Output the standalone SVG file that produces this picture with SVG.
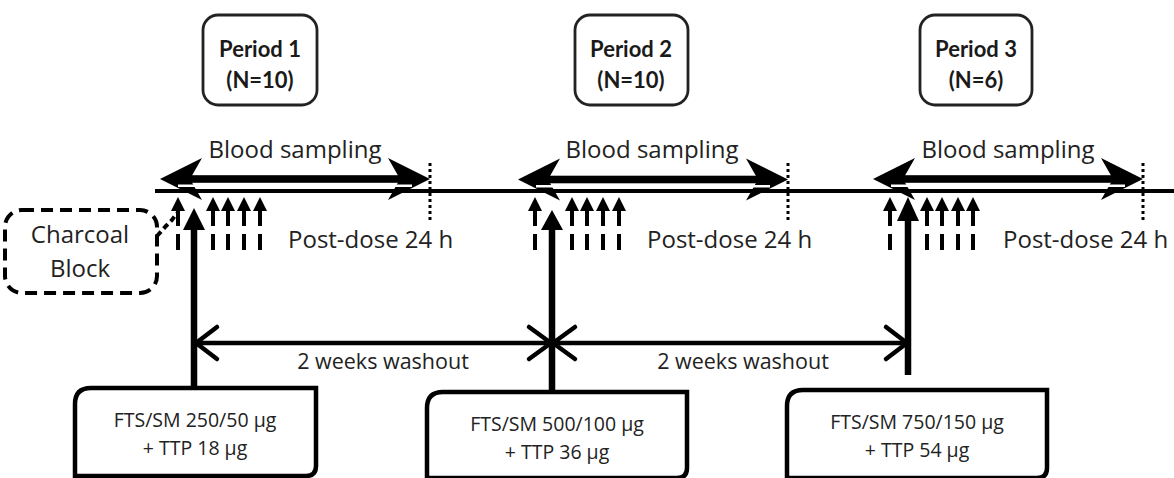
<svg xmlns="http://www.w3.org/2000/svg" xmlns:xlink="http://www.w3.org/1999/xlink" width="1174" height="478" viewBox="0 0 1174 478">
<style>
  .pbox { fill: #fff; stroke: #222; stroke-width: 2.8; }
  .ptxt { font-family: Lato, "Open Sans", sans-serif; font-weight: bold; font-size: 22px; fill: #1a1a1a; text-anchor: middle; }
  .lbl { font-family: "Open Sans", "Liberation Sans", sans-serif; font-size: 24px; fill: #222; }
  .wtxt { font-family: "Open Sans", "Liberation Sans", sans-serif; font-size: 21.5px; fill: #222; text-anchor: middle; }
  .btxt { font-family: "Open Sans", "Liberation Sans", sans-serif; font-size: 19.5px; fill: #222; text-anchor: middle; }
  .dbox { fill: #fff; stroke: #000; stroke-width: 4.5; }
  .line { stroke: #000; fill: none; }
  .dot { stroke: #000; stroke-width: 3; stroke-dasharray: 3 3; }
  .head { fill: #000; }
  .chev { stroke: #000; stroke-width: 4.5; fill: none; stroke-linecap: round; stroke-linejoin: round; }
</style>
<defs>
  <g id="sa">
    <polygon points="-7,211 0,197 7,211" fill="#000"/>
    <path d="M0,210 V226 M0,234 V250" stroke="#000" stroke-width="4" fill="none"/>
  </g>
  <g id="bs">
    <polygon class="head" points="0,0 42,-21 30,0 42,21"/>
    <polygon class="head" points="270,0 228,-21 240,0 228,21"/>
    <rect x="22" y="-3.8" width="226" height="7.6" fill="#000"/>
    <line x1="18" y1="6.8" x2="252" y2="6.8" stroke="#fff" stroke-width="2.6"/>
  </g>
</defs>

<!-- Period boxes -->
<g id="period1">
  <rect class="pbox" x="203" y="15" width="114" height="90" rx="15"/>
  <text class="ptxt" x="260" y="57">Period 1</text>
  <text class="ptxt" x="260" y="88">(N=10)</text>
</g>
<g id="period2">
  <rect class="pbox" x="575" y="15" width="113" height="90" rx="15"/>
  <text class="ptxt" x="631" y="57">Period 2</text>
  <text class="ptxt" x="631" y="88">(N=10)</text>
</g>
<g id="period3">
  <rect class="pbox" x="920" y="15" width="112" height="90" rx="15"/>
  <text class="ptxt" x="976" y="57">Period 3</text>
  <text class="ptxt" x="976" y="88">(N=6)</text>
</g>

<!-- Charcoal block -->
<g id="charcoal">
  <rect x="5" y="210" width="152" height="83" rx="17" fill="#fff" stroke="#000" stroke-width="4" stroke-dasharray="12 7"/>
  <text class="lbl" x="80" y="243" text-anchor="middle" font-size="23">Charcoal</text>
  <text class="lbl" x="80" y="277" text-anchor="middle" font-size="23">Block</text>
</g>

<!-- Dose boxes -->
<g id="dose1">
  <path class="dbox" d="M75,476 V404 Q75,388 91,388 H316 V466 Q316,476 306,476 Z"/>
  <text class="btxt" x="195" y="427">FTS/SM 250/50 µg</text>
  <text class="btxt" x="195" y="455">+ TTP 18 µg</text>
</g>
<g id="dose2">
  <path class="dbox" d="M427,478 V408 Q427,392 443,392 H687 V468 Q687,478 677,478 Z"/>
  <text class="btxt" x="557" y="431">FTS/SM 500/100 µg</text>
  <text class="btxt" x="557" y="459">+ TTP 36 µg</text>
</g>
<g id="dose3">
  <path class="dbox" d="M787,478 V406 Q787,390 803,390 H1047 V468 Q1047,478 1037,478 Z"/>
  <text class="btxt" x="917" y="429">FTS/SM 750/150 µg</text>
  <text class="btxt" x="917" y="457">+ TTP 54 µg</text>
</g>

<!-- Labels -->
<g id="labels">
  <text class="lbl" x="295" y="158" text-anchor="middle">Blood sampling</text>
  <text class="lbl" x="652" y="158" text-anchor="middle">Blood sampling</text>
  <text class="lbl" x="1008" y="158" text-anchor="middle">Blood sampling</text>
  <text class="lbl" x="288" y="248">Post-dose 24 h</text>
  <text class="lbl" x="647" y="248">Post-dose 24 h</text>
  <text class="lbl" x="1003" y="248">Post-dose 24 h</text>
  <text class="wtxt" x="383" y="369">2 weeks washout</text>
  <text class="wtxt" x="743" y="369">2 weeks washout</text>
</g>

<!-- Connectors -->
<g id="connectors">
  <!-- timeline -->
  <line class="line" x1="155" y1="191" x2="1174" y2="191" stroke-width="4"/>
  <!-- 24 h markers -->
  <line class="dot" x1="430" y1="163" x2="430" y2="220"/>
  <line class="dot" x1="788" y1="163" x2="788" y2="220"/>
  <line class="dot" x1="1143" y1="163" x2="1143" y2="220"/>
  <!-- blood sampling double arrows -->
  <use xlink:href="#bs" href="#bs" transform="translate(160,179)"/>
  <use xlink:href="#bs" href="#bs" transform="translate(518,179.5)"/>
  <use xlink:href="#bs" href="#bs" transform="translate(873,179)"/>
  <!-- sampling arrows period 1 -->
  <use xlink:href="#sa" href="#sa" x="178"/>
  <use xlink:href="#sa" href="#sa" x="213"/>
  <use xlink:href="#sa" href="#sa" x="228"/>
  <use xlink:href="#sa" href="#sa" x="244"/>
  <use xlink:href="#sa" href="#sa" x="260"/>
  <!-- sampling arrows period 2 -->
  <use xlink:href="#sa" href="#sa" x="535"/>
  <use xlink:href="#sa" href="#sa" x="572"/>
  <use xlink:href="#sa" href="#sa" x="587"/>
  <use xlink:href="#sa" href="#sa" x="603"/>
  <use xlink:href="#sa" href="#sa" x="619"/>
  <!-- sampling arrows period 3 -->
  <use xlink:href="#sa" href="#sa" x="890"/>
  <use xlink:href="#sa" href="#sa" x="927"/>
  <use xlink:href="#sa" href="#sa" x="942"/>
  <use xlink:href="#sa" href="#sa" x="958"/>
  <use xlink:href="#sa" href="#sa" x="973"/>
  <!-- charcoal link -->
  <path d="M157,236 L166,226 L172,220 L177,213" fill="none" stroke="#000" stroke-width="4" stroke-dasharray="6 4"/>
  <!-- dosing arrows -->
  <line class="line" x1="194" y1="226" x2="194" y2="388" stroke-width="6.5"/>
  <polygon class="head" points="183,230 194,208 205,230"/>
  <line class="line" x1="552" y1="226" x2="552" y2="392" stroke-width="6.5"/>
  <polygon class="head" points="541,230 552,210 563,230"/>
  <line class="line" x1="908" y1="218" x2="908" y2="375" stroke-width="6.5"/>
  <polygon class="head" points="897,221 908,197 919,221"/>
  <!-- washout arrows -->
  <line class="line" x1="195" y1="343" x2="908" y2="343" stroke-width="4.5"/>
  <polyline class="chev" points="217,327 196,343 217,359"/>
  <polyline class="chev" points="529,327 551,343 529,359"/>
  <polyline class="chev" points="575,327 553,343 575,359"/>
  <polyline class="chev" points="886,327 907,343 886,359"/>
</g>
</svg>
